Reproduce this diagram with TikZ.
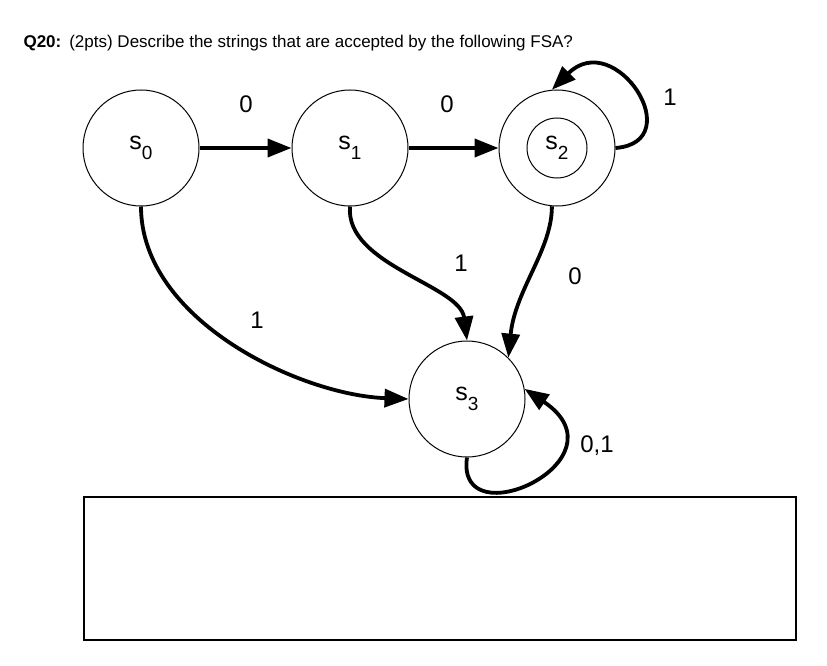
\documentclass[tikz,border=0pt]{standalone}
\usepackage{fontspec}
\setmainfont{Liberation Sans}
\usetikzlibrary{arrows.meta}
\newcommand{\StateName}[1]{s\raisebox{-10pt}{\fontsize{19}{19}\selectfont #1}}

\begin{document}
\begin{tikzpicture}[x=1pt,y=-1pt,
  state/.style={circle,draw,line width=1pt,minimum size=116pt,inner sep=0pt,font=\fontsize{25}{25}\selectfont},
  trans/.style={line width=3.8pt,-{Triangle[length=24pt,width=18pt]}},
  lbl/.style={font=\fontsize{24}{24}\selectfont}]
\useasboundingbox (0,0) rectangle (827,666);

\node[anchor=base west,font=\fontsize{17}{20}\selectfont] (title) at (20,48) {\textbf{Q20:}\hspace{8pt}(2pts) Describe the strings that are accepted by the following FSA?};

\node[state] (s0) at (141,148) {\StateName{0}};
\node[state] (s1) at (350,148) {\StateName{1}};
\node[state] (s2) at (557,148) {};
\node[circle,draw,line width=1pt,minimum size=60pt,inner sep=0pt,font=\fontsize{25}{25}\selectfont] (s2in) at (s2) {\StateName{2}};
\node[state] (s3) at (467,399) {\StateName{3}};

\draw[trans] (s0) -- (s1);
\draw[trans] (s1) -- (s2);
\draw[trans] (s2.east) .. controls (690,142) and (615,27) .. (s2.95);
\draw[trans] (s0.south) .. controls (141,320) and (300,395) .. (s3.west);
\draw[trans] (s1.south) .. controls (345,265) and (460,285) .. (s3.north);
\draw[trans] (s2.265) .. controls (552,250) and (515,290) .. (s3.45);
\draw[trans] (s3.south) .. controls (455,540) and (630,460) .. (s3.10);

\node[lbl] (l01) at (246,104) {0};
\node[lbl] (l12) at (447,104) {0};
\node[lbl] (l22) at (670,97) {1};
\node[lbl] (l03) at (257,320) {1};
\node[lbl] (l13) at (461,263) {1};
\node[lbl] (l23) at (575,276) {0};
\node[lbl] (l33) at (597,446) {0,1};

\draw[line width=1.4pt] (84,497) rectangle (796,640);
\end{tikzpicture}
\end{document}
